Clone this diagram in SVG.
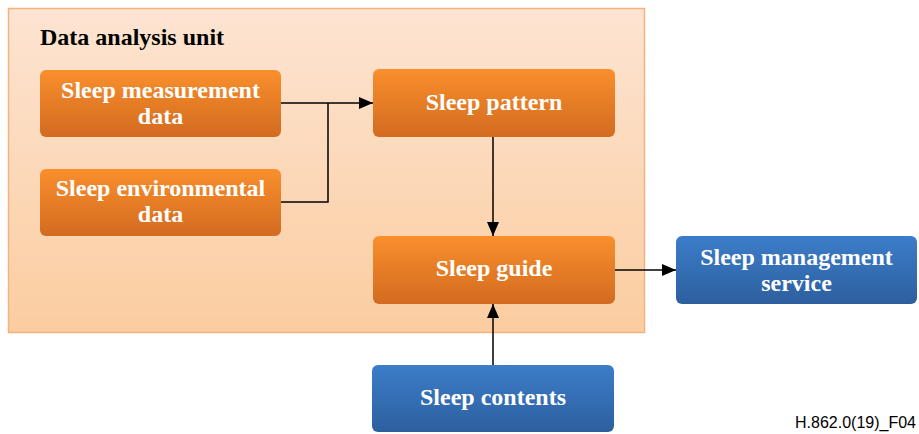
<svg xmlns="http://www.w3.org/2000/svg" width="919" height="434" viewBox="0 0 919 434">
  <style>
    .lbl { font-family: "Liberation Serif", "Times New Roman", serif; font-weight: bold; font-size: 24px; fill: #ffffff; text-anchor: middle; }
    .title { font-family: "Liberation Serif", "Times New Roman", serif; font-weight: bold; font-size: 24px; fill: #000000; }
    .note { font-family: "Liberation Sans", Arial, sans-serif; font-size: 16px; fill: #000000; text-anchor: end; }
    .edge { fill: none; stroke: #000000; stroke-width: 1.5; }
  </style>
  <defs>
    <linearGradient id="unitFill" x1="0" y1="0" x2="0" y2="1">
      <stop offset="0" stop-color="#fde4d2"/>
      <stop offset="1" stop-color="#fbcda0"/>
    </linearGradient>
    <linearGradient id="orangeFill" x1="0" y1="0" x2="0" y2="1">
      <stop offset="0" stop-color="#f98f2c"/>
      <stop offset="1" stop-color="#d26b20"/>
    </linearGradient>
    <linearGradient id="blueFill" x1="0" y1="0" x2="0" y2="1">
      <stop offset="0" stop-color="#3c7dc9"/>
      <stop offset="1" stop-color="#2d5f9f"/>
    </linearGradient>
    <marker id="arrow" viewBox="0 0 14 12" refX="14" refY="6" markerWidth="14" markerHeight="12" markerUnits="userSpaceOnUse" orient="auto">
      <path d="M0,0 L14,6 L0,12 Z" fill="#000000"/>
    </marker>
  </defs>

  <!-- container -->
  <g id="data-analysis-unit">
    <rect x="8.5" y="8.5" width="636" height="324" fill="url(#unitFill)" stroke="#f5b27f" stroke-width="1.5"/>
    <text class="title" x="40" y="45">Data analysis unit</text>
  </g>

  <!-- connectors -->
  <g id="connectors">
    <path class="edge" d="M281,103 H373" marker-end="url(#arrow)"/>
    <path class="edge" d="M281,202 H328 V103"/>
    <path class="edge" d="M493,137 V236" marker-end="url(#arrow)"/>
    <path class="edge" d="M615,270 H676" marker-end="url(#arrow)"/>
    <path class="edge" d="M493,365 V304" marker-end="url(#arrow)"/>
  </g>

  <g id="sleep-measurement-data">
    <rect x="40" y="70" width="241" height="67" rx="6" fill="url(#orangeFill)"/>
    <text class="lbl" x="160.5" y="98">Sleep measurement</text>
    <text class="lbl" x="160.5" y="124">data</text>
  </g>

  <g id="sleep-environmental-data">
    <rect x="40" y="169" width="241" height="67" rx="6" fill="url(#orangeFill)"/>
    <text class="lbl" x="160.5" y="196">Sleep environmental</text>
    <text class="lbl" x="160.5" y="222">data</text>
  </g>

  <g id="sleep-pattern">
    <rect x="373" y="69" width="242" height="68" rx="6" fill="url(#orangeFill)"/>
    <text class="lbl" x="494" y="110">Sleep pattern</text>
  </g>

  <g id="sleep-guide">
    <rect x="373" y="236" width="242" height="68" rx="6" fill="url(#orangeFill)"/>
    <text class="lbl" x="494" y="276">Sleep guide</text>
  </g>

  <g id="sleep-management-service">
    <rect x="676" y="236" width="241" height="68" rx="6" fill="url(#blueFill)"/>
    <text class="lbl" x="796.5" y="265">Sleep management</text>
    <text class="lbl" x="796.5" y="291">service</text>
  </g>

  <g id="sleep-contents">
    <rect x="372" y="365" width="242" height="67" rx="6" fill="url(#blueFill)"/>
    <text class="lbl" x="493" y="405">Sleep contents</text>
  </g>

  <text class="note" x="916" y="428">H.862.0(19)_F04</text>
</svg>
